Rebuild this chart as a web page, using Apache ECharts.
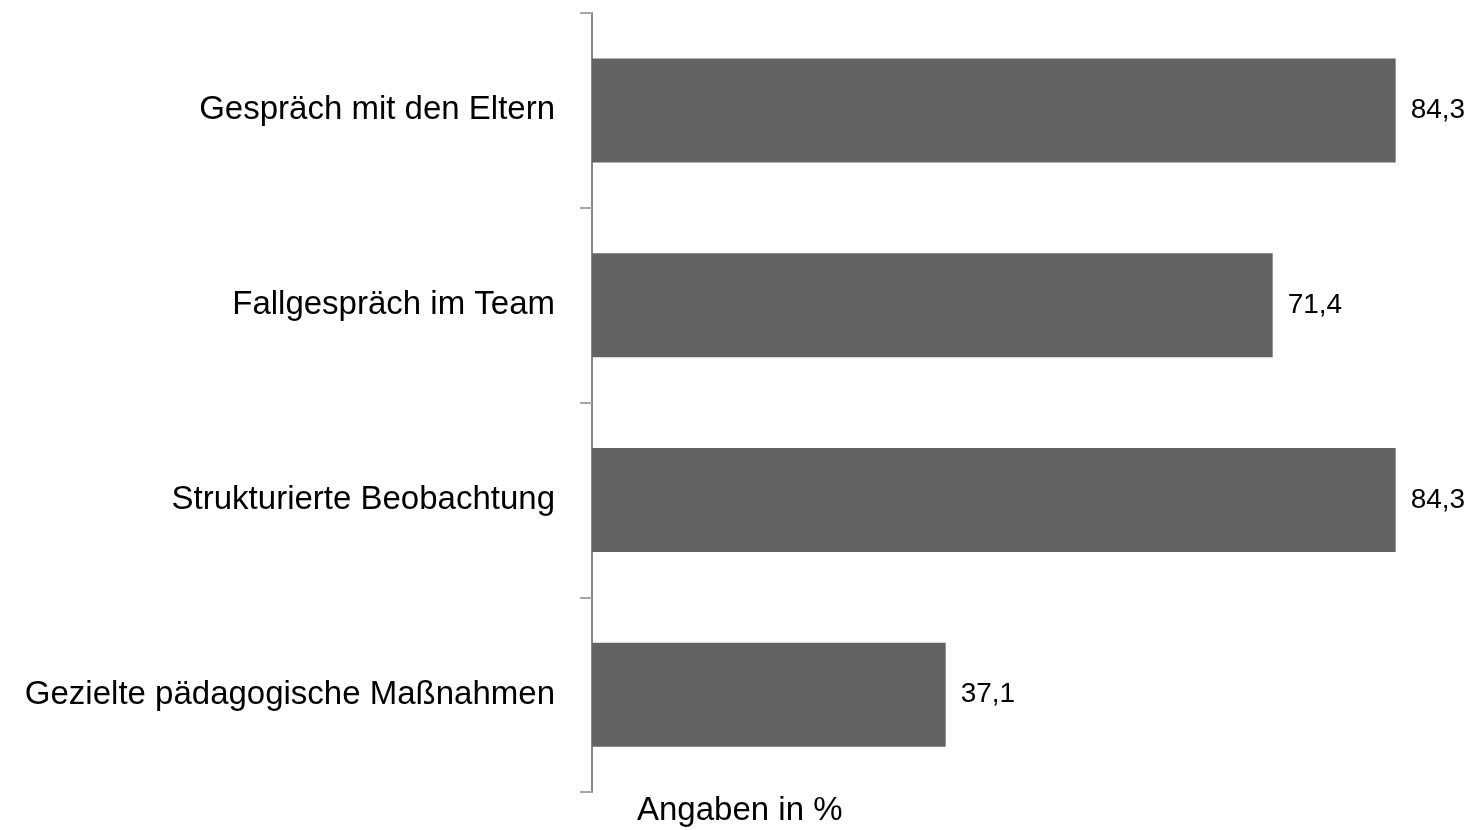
<!DOCTYPE html>
<html>
<head>
<meta charset="utf-8">
<script src="https://cdn.jsdelivr.net/npm/echarts@6/dist/echarts.min.js"></script>
<style>
  html, body { margin: 0; padding: 0; background: #fff; }
  #chart { width: 1471px; height: 830px; }
</style>
</head>
<body>
<div id="chart"></div>
<script>
const categories = [
    "Gespräch mit den Eltern",
    "Fallgespräch im Team",
    "Strukturierte Beobachtung",
    "Gezielte pädagogische Maßnahmen"
];
const values = [84.3, 71.4, 84.3, 37.1];
const axisTitle = "Angaben in %";

const font = "'Liberation Sans Narrow', 'Arial Narrow', 'Liberation Sans', Arial, sans-serif";

const chart = echarts.init(document.getElementById("chart"));

chart.setOption({
    animation: false,
    title: {
        text: axisTitle,
        left: 632,
        top: 789,
        textStyle: {
            fontFamily: font,
            fontSize: 33,
            fontWeight: "normal",
            color: "#000"
        }
    },
    grid: { left: 592, right: 21, top: 13, bottom: 38, containLabel: false },
    xAxis: {
        type: "value",
        min: 0,
        max: 90,
        show: false
    },
    yAxis: {
        type: "category",
        data: categories,
        inverse: true,
        axisLine: { show: true, lineStyle: { color: "#868686", width: 2 } },
        axisTick: {
            show: true,
            alignWithLabel: false,
            length: 12,
            lineStyle: { color: "#a6a6a6", width: 2 }
        },
        axisLabel: {
            margin: 37,
            fontFamily: font,
            fontSize: 33,
            color: "#000"
        }
    },
    series: [
        {
            type: "bar",
            data: values,
            barWidth: 104,
            itemStyle: { color: "#636363" },
            label: {
                show: true,
                position: "right",
                distance: 15,
                fontFamily: font,
                fontSize: 28,
                color: "#000",
                formatter: (p) => p.value.toFixed(1).replace(".", ",")
            }
        }
    ]
});
</script>
</body>
</html>
